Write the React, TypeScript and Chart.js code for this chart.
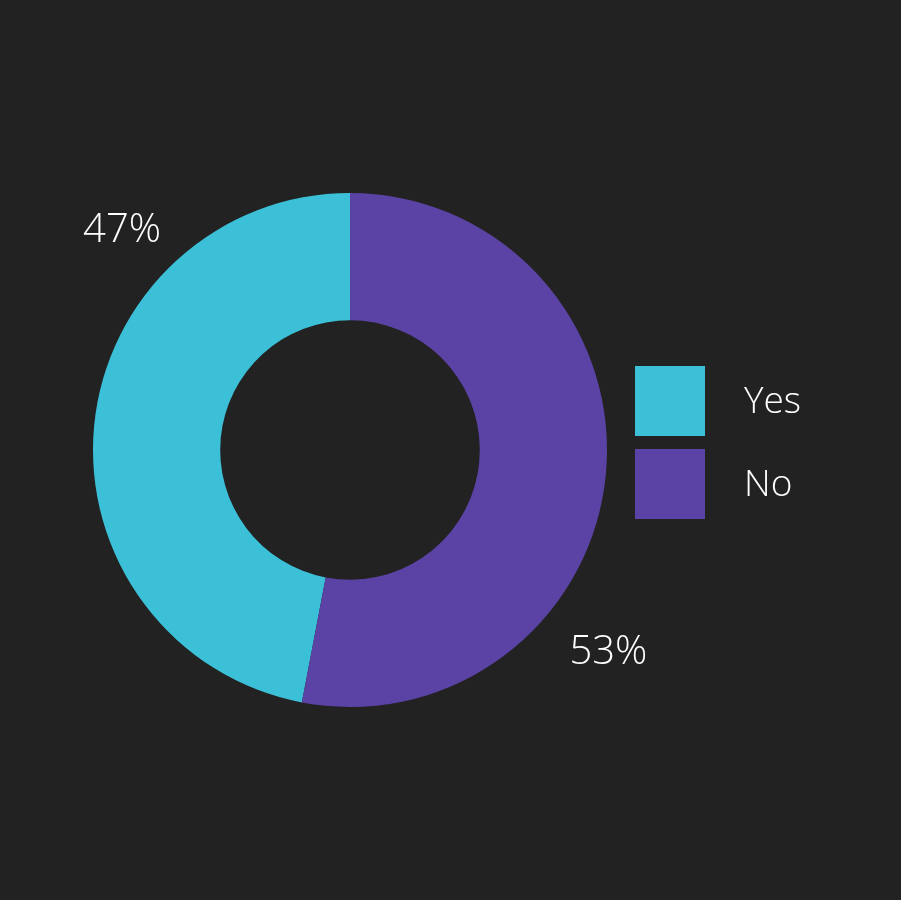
import React, { useEffect, useRef } from "react";
import { Chart, registerables } from "chart.js";

Chart.register(...registerables);

const categories = ["Yes", "No"];
const values = [47, 53];
const colors = ["#3bc0d8", "#5b43a5"];
const valueLabels = ["47%", "53%"];

const FONT = "'Open Sans', 'Noto Sans', sans-serif";
const BG = "#222222";

// label placement: angle (deg clockwise from top) and distance factor of outer radius
const labelAngles = [314, 128];
const labelDist = [1.233, 1.276];

const overlayPlugin = {
  id: "overlay",
  beforeDraw(chart: any) {
    const ctx = chart.ctx;
    ctx.save();
    ctx.fillStyle = BG;
    ctx.fillRect(0, 0, chart.width, chart.height);
    ctx.restore();
  },
  afterDraw(chart: any) {
    const ctx = chart.ctx;
    const meta = chart.getDatasetMeta(0);
    ctx.save();
    ctx.fillStyle = "#ffffff";
    ctx.font = `300 40px ${FONT}`;
    ctx.textAlign = "center";
    ctx.textBaseline = "middle";
    meta.data.forEach((arc: any, i: number) => {
      const { x, y, outerRadius } = arc.getProps(["x", "y", "outerRadius"], true);
      const a = (labelAngles[i] * Math.PI) / 180;
      const r = outerRadius * labelDist[i];
      ctx.fillText(valueLabels[i], x + r * Math.sin(a), y - r * Math.cos(a) + 1);
    });
    // legend
    ctx.font = `300 37px ${FONT}`;
    const boxX = 635;
    const boxSize = 70;
    const startY = 366;
    const step = 83;
    ctx.textAlign = "left";
    categories.forEach((c, i) => {
      const by = startY + i * step;
      ctx.fillStyle = colors[i];
      ctx.fillRect(boxX, by, boxSize, boxSize);
      ctx.fillStyle = "#ffffff";
      ctx.fillText(c, boxX + 109, by + boxSize / 2 + 1);
    });
    ctx.restore();
  },
};

export default function App() {
  const ref = useRef<HTMLCanvasElement | null>(null);
  useEffect(() => {
    document.body.style.margin = "0";
    document.body.style.background = BG;
    const total = values.reduce((a, b) => a + b, 0);
    const chart = new Chart(ref.current as HTMLCanvasElement, {
      type: "doughnut",
      data: {
        labels: categories,
        datasets: [
          {
            data: values,
            backgroundColor: colors,
            borderWidth: 0,
          },
        ],
      },
      options: {
        animation: false,
        responsive: false,
        rotation: (values[1] / total) * 360,
        cutout: "50.5%",
        layout: { padding: { left: 93, right: 294, top: 193, bottom: 193 } },
        plugins: {
          legend: { display: false },
          tooltip: { enabled: false },
        },
      },
      plugins: [overlayPlugin],
    });
    return () => chart.destroy();
  }, []);
  return (
    <div style={{ width: 901, height: 900, background: BG }}>
      <canvas ref={ref} width={901} height={900} style={{ display: "block" }} />
    </div>
  );
}
